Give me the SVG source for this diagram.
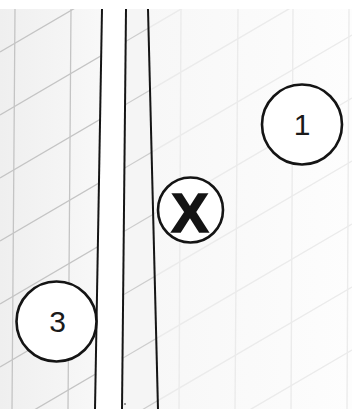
<svg xmlns="http://www.w3.org/2000/svg" width="352" height="409" viewBox="0 0 352 409">
  <defs>
    <clipPath id="clipLeft"><polygon points="0,9 102,9 95,409 0,409"/></clipPath>
    <clipPath id="clipMid"><polygon points="126,9 148,9 158,409 122,409"/></clipPath>
    <clipPath id="clipRight"><polygon points="148,9 352,9 352,409 158,409"/></clipPath>
    <linearGradient id="gLeft" x1="0" y1="0" x2="1" y2="0">
      <stop offset="0" stop-color="#efefef"/>
      <stop offset="1" stop-color="#f9f9f9"/>
    </linearGradient>
    <linearGradient id="gRight" x1="0" y1="0" x2="1" y2="0">
      <stop offset="0" stop-color="#f7f7f7"/>
      <stop offset="1" stop-color="#fdfdfd"/>
    </linearGradient>
    <g id="diag">
      <path d="M0,52 L352,-154"/>
      <path d="M0,115 L352,-91"/>
      <path d="M0,178 L352,-28"/>
      <path d="M0,241 L352,35"/>
      <path d="M0,304 L352,98"/>
      <path d="M0,367 L352,161"/>
      <path d="M0,430 L352,224"/>
      <path d="M0,493 L352,287"/>
      <path d="M0,556 L352,350"/>
      <path d="M0,619 L352,413"/>
    </g>
  </defs>
  <style>
    .gl { fill: none; stroke: #c4c4c4; stroke-width: 1.3; }
    .gm { fill: none; stroke: #cdcdcd; stroke-width: 1.2; }
    .gr { fill: none; stroke: #ebebeb; stroke-width: 1.4; }
    .stem { fill: none; stroke: #151515; stroke-width: 2; }
    .node circle { fill: #ffffff; stroke: #141414; stroke-width: 2.6; }
    .num { font-family: "Liberation Sans", Arial, sans-serif; font-size: 30px; fill: #1a1a1a; text-anchor: middle; }
    .x { font-family: "Liberation Sans", Arial, sans-serif; font-size: 56px; font-weight: bold; fill: #141414; stroke: #141414; stroke-width: 1.6; text-anchor: middle; }
  </style>
  <rect width="352" height="409" fill="#ffffff"/>

  <g id="wall-left" clip-path="url(#clipLeft)">
    <rect x="0" y="9" width="110" height="400" fill="url(#gLeft)"/>
    <use href="#diag" class="gl"/>
    <path class="gl" d="M15,9 L12,409 M71,9 L68,409"/>
  </g>
  <g id="wall-mid" clip-path="url(#clipMid)">
    <rect x="120" y="9" width="40" height="400" fill="#f5f5f5"/>
    <use href="#diag" class="gm"/>
  </g>
  <g id="wall-right" clip-path="url(#clipRight)">
    <rect x="148" y="9" width="204" height="400" fill="url(#gRight)"/>
    <use href="#diag" class="gr"/>
    <path class="gr" d="M181,9 L179,409 M238,9 L235,409 M293,9 L291,409 M349,9 L347,409"/>
  </g>

  <g id="connectors">
    <path class="stem" d="M102,9 L95,409"/>
    <path class="stem" d="M126,9 L122,409"/>
    <path class="stem" d="M148,9 L158,409"/>
    <circle cx="125" cy="404" r="0.8" fill="#222"/>
  </g>

  <g id="node-1" class="node">
    <circle cx="302" cy="124.5" r="40"/>
    <text class="num" x="302" y="135">1</text>
  </g>
  <g id="node-x" class="node">
    <circle cx="190.5" cy="210" r="32.5"/>
    <text class="x" x="190" y="232">X</text>
  </g>
  <g id="node-3" class="node">
    <circle cx="56.5" cy="321.5" r="40"/>
    <text class="num" x="57.5" y="331.5">3</text>
  </g>
</svg>
